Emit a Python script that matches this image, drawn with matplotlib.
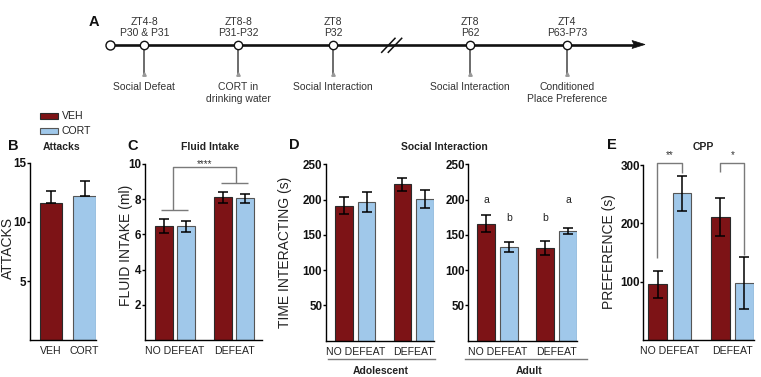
import matplotlib
matplotlib.use('Agg')
import matplotlib.pyplot as plt
import numpy as np
from matplotlib.patches import Rectangle, Polygon

plt.rcParams['font.family'] = ['Liberation Sans', 'DejaVu Sans']

# ---------------- data ----------------
treatments = ['VEH', 'CORT']
conditions = ['NO DEFEAT', 'DEFEAT']

attacks_mean = [11.6, 12.2]
attacks_err = [1.05, 1.3]

fluid_veh = [6.5, 8.1]
fluid_veh_err = [0.4, 0.3]
fluid_cort = [6.45, 8.05]
fluid_cort_err = [0.3, 0.25]

si_adol_veh = [191, 221.5]
si_adol_veh_err = [12, 9]
si_adol_cort = [196.5, 200.5]
si_adol_cort_err = [14, 13]

si_adult_veh = [165.5, 132]
si_adult_veh_err = [12, 10]
si_adult_cort = [132.5, 155.5]
si_adult_cort_err = [7, 4]
adult_letters_veh = ['a', 'b']
adult_letters_cort = ['b', 'a']

cpp_veh = [95.5, 211]
cpp_veh_err = [23.5, 32]
cpp_cort = [251.5, 98]
cpp_cort_err = [30, 45]

timeline_top = ['ZT4-8\nP30 & P31', 'ZT8-8\nP31-P32', 'ZT8\nP32', 'ZT8\nP62', 'ZT4\nP63-P73']
timeline_bottom = ['Social Defeat', 'CORT in\ndrinking water', 'Social Interaction',
                   'Social Interaction', 'Conditioned\nPlace Preference']

# ---------------- style ----------------
W, H = 761, 377
VEH_C = '#7d1316'
CORT_C = '#a0c8ea'
EDGE = '#2a2a2a'
GRAY = '#7a7a7a'
TXT = '#333333'

fig = plt.figure(figsize=(W / 100, H / 100), dpi=100)
fig.patch.set_facecolor('white')


def add_ax(l, t, r, b):
    return fig.add_axes([l / W, 1 - b / H, (r - l) / W, (b - t) / H])


ERR_KW = dict(ecolor='black', elinewidth=1.1, capsize=3.6, capthick=1.1)


def style(ax, ylim, yticks, xlim):
    ax.set_ylim(*ylim)
    ax.set_xlim(*xlim)
    ax.set_yticks(yticks)
    for s in ['top', 'right']:
        ax.spines[s].set_visible(False)
    for s in ['left', 'bottom']:
        ax.spines[s].set_linewidth(1.0)
    ax.tick_params(axis='y', direction='out', length=2.2, width=1.0, pad=0.3,
                   labelsize=8.4, labelcolor='#111111')
    ax.tick_params(axis='x', length=0, pad=4.5, labelsize=7.6, labelcolor='#222222')
    for lab in ax.get_yticklabels():
        lab.set_fontweight('bold')
    ax.patch.set_visible(False)


def ylabel(ax, text, l, t, r, b, cx, cy):
    ax.set_ylabel(text, fontsize=10, color='#222222')
    ax.yaxis.label.set_va('center')
    ax.yaxis.set_label_coords((cx - l) / (r - l), (b - cy) / (b - t))


def grouped(ax, veh, veh_err, cort, cort_err, off, width):
    x = np.arange(len(veh))
    ax.bar(x - off, veh, width, yerr=veh_err, color=VEH_C, edgecolor=EDGE,
           linewidth=0.8, error_kw=ERR_KW)
    ax.bar(x + off, cort, width, yerr=cort_err, color=CORT_C, edgecolor='#555555',
           linewidth=0.8, error_kw=ERR_KW)
    ax.set_xticks(x)
    ax.set_xticklabels(conditions)
    return x


# ---------------- B: attacks ----------------
lB, tB, rB, bB = 30, 163, 96, 340
axB = add_ax(lB, tB, rB, bB)
xb = np.arange(len(treatments))
axB.bar(xb, attacks_mean, 0.66, yerr=[np.zeros(2), attacks_err],
        color=[VEH_C, CORT_C], edgecolor=[EDGE, '#555555'], linewidth=0.8,
        error_kw=ERR_KW)
axB.set_xticks(xb)
axB.set_xticklabels(treatments)
style(axB, (0, 15), [5, 10, 15], (-0.627, 1.343))
ylabel(axB, 'ATTACKS', lB, tB, rB, bB, 7.5, 248)

# ---------------- C: fluid intake ----------------
lC, tC, rC, bC = 145, 164, 262, 340
axC = add_ax(lC, tC, rC, bC)
xc = grouped(axC, fluid_veh, fluid_veh_err, fluid_cort, fluid_cort_err, 0.187, 0.305)
style(axC, (0, 10), [2, 4, 6, 8, 10], (-0.51, 1.47))
ylabel(axC, 'FLUID INTAKE (ml)', lC, tC, rC, bC, 126, 245)
# significance bracket
bk = dict(color=GRAY, lw=1.0, clip_on=False, solid_capstyle='butt')
axC.plot([xc[0] - 0.24, xc[0] + 0.22], [7.4, 7.4], **bk)
axC.plot([xc[1] - 0.22, xc[1] + 0.24], [8.94, 8.94], **bk)
axC.plot([xc[0] - 0.03, xc[0] - 0.03, xc[1] + 0.03, xc[1] + 0.03],
         [7.4, 9.83, 9.83, 8.94], **bk)
axC.text((xc[0] + xc[1]) / 2, 10.0, '****', ha='center', va='center',
         fontsize=7, color='#333333', clip_on=False)

# ---------------- D: social interaction ----------------
lD1, tD, rD1, bD = 325.7, 164.3, 434, 340.7
axD1 = add_ax(lD1, tD, rD1, bD)
grouped(axD1, si_adol_veh, si_adol_veh_err, si_adol_cort, si_adol_cort_err, 0.195, 0.30)
style(axD1, (0, 250), [50, 100, 150, 200, 250], (-0.506, 1.345))
ylabel(axD1, 'TIME INTERACTING (s)', lD1, tD, rD1, bD, 285, 252)

lD2, rD2 = 468.3, 577.3
axD2 = add_ax(lD2, tD, rD2, bD)
xd = grouped(axD2, si_adult_veh, si_adult_veh_err, si_adult_cort, si_adult_cort_err,
             0.192, 0.30)
style(axD2, (0, 250), [50, 100, 150, 200, 250], (-0.495, 1.35))
letter_y = {'a': 200, 'b': 174}
for i in range(len(xd)):
    axD2.text(xd[i] - 0.192, letter_y[adult_letters_veh[i]], adult_letters_veh[i],
              ha='center', va='center', fontsize=7.5, color='#222222')
    axD2.text(xd[i] + 0.192, letter_y[adult_letters_cort[i]], adult_letters_cort[i],
              ha='center', va='center', fontsize=7.5, color='#222222')

# ---------------- E: CPP ----------------
lE, tE, rE, bE = 643.3, 165, 753.7, 340
axE = add_ax(lE, tE, rE, bE)
xe = grouped(axE, cpp_veh, cpp_veh_err, cpp_cort, cpp_cort_err, 0.194, 0.30)
style(axE, (0, 300), [100, 200, 300], (-0.426, 1.343))
ylabel(axE, 'PREFERENCE (s)', lE, tE, rE, bE, 609, 251.5)
axE.plot([xe[0] - 0.21, xe[0] - 0.21, xe[0] + 0.19, xe[0] + 0.19],
         [140, 303, 303, 286], **bk)
axE.plot([xe[1] - 0.20, xe[1] - 0.20, xe[1] + 0.18, xe[1] + 0.18],
         [288, 303, 303, 146], **bk)
axE.text(xe[0], 317, '**', ha='center', va='center', fontsize=7, color='#333333',
         clip_on=False)
axE.text(xe[1], 317, '*', ha='center', va='center', fontsize=7, color='#333333',
         clip_on=False)

# ---------------- overlay (pixel coordinates) ----------------
ov = fig.add_axes([0, 0, 1, 1])
ov.set_xlim(0, W)
ov.set_ylim(H, 0)
ov.axis('off')
ov.patch.set_visible(False)

# panel letters
for lab, x, y in [('A', 94.3, 21.7), ('B', 13.3, 146), ('C', 132.7, 146),
                  ('D', 294, 145), ('E', 611.5, 145)]:
    ov.text(x, y, lab, ha='center', va='center', fontsize=10.5, fontweight='bold',
            color='#111111')

# panel titles
for lab, x in [('Attacks', 62), ('Fluid Intake', 210), ('Social Interaction', 444),
               ('CPP', 703)]:
    ov.text(x, 147, lab, ha='center', va='center', fontsize=7.5, fontweight='bold',
            color='#222222')

# legend
for name, col, ec, y in [(treatments[0], VEH_C, EDGE, 113), (treatments[1], CORT_C, '#555555', 127.7)]:
    ov.add_patch(Rectangle((40, y), 18, 6, facecolor=col, edgecolor=ec, lw=0.8))
    ov.text(62, y + 3, name, ha='left', va='center', fontsize=7.6, color='#222222')

# age group brackets for D
for name, x0, x1, xc_ in [('Adolescent', 328, 435, 381), ('Adult', 465, 587, 529)]:
    ov.plot([x0, x1], [359.3, 359.3], color=GRAY, lw=1.0)
    ov.text(xc_, 371, name, ha='center', va='center', fontsize=7.5, fontweight='bold',
            color='#222222')

# timeline
ty = 44.5
ov.plot([110, 636], [ty, ty], color='#111111', lw=1.9, solid_capstyle='butt', zorder=2)
ov.add_patch(Polygon([[645, ty], [632, ty - 4], [634, ty], [632, ty + 4]], closed=True,
                     facecolor='#111111', edgecolor='#111111', lw=0.5, zorder=3))
ov.plot([110], [ty], marker='o', ms=6.5, mfc='white', mec='#111111', mew=1.0, zorder=4)
# break marks
ov.plot([381.7, 395], [52.3, 38.3], color='#111111', lw=1.1, zorder=3)
ov.plot([388.3, 401.7], [52.3, 38.3], color='#111111', lw=1.1, zorder=3)

event_x = [144.3, 238.3, 333.3, 470, 567.3]
for x, top, bot in zip(event_x, timeline_top, timeline_bottom):
    ov.plot([x, x], [ty + 3, 75], color='#444444', lw=1.1, zorder=2)
    ov.plot([x], [74], marker='^', ms=2.5, color='#999999', mec='#999999', zorder=2)
    ov.plot([x], [ty], marker='o', ms=6, mfc='white', mec='#111111', mew=1.0, zorder=4)
    for i, line in enumerate(top.split('\n')):
        ov.text(x, 21.7 + 11.6 * i, line, ha='center', va='center', fontsize=7.5, color=TXT)
    for i, line in enumerate(bot.split('\n')):
        ov.text(x, 87.3 + 12 * i, line, ha='center', va='center', fontsize=7.5, color=TXT)

fig.savefig('out.png', dpi=100)
